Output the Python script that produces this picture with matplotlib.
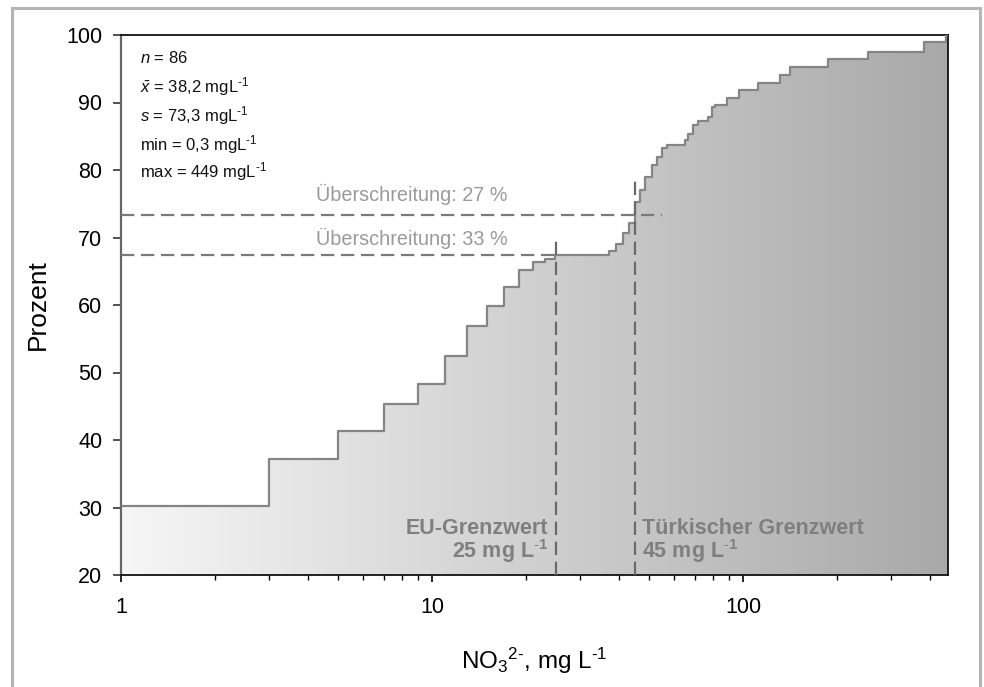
import numpy as np
import matplotlib
matplotlib.use("Agg")
import matplotlib.pyplot as plt
from matplotlib.patches import PathPatch, Rectangle
from matplotlib.path import Path
from matplotlib.colors import LinearSegmentedColormap

plt.rcParams['font.family'] = ['Liberation Sans', 'DejaVu Sans']
plt.rcParams['mathtext.fontset'] = 'custom'
plt.rcParams['mathtext.rm'] = 'Liberation Sans'
plt.rcParams['mathtext.it'] = 'Liberation Sans:italic'
plt.rcParams['mathtext.bf'] = 'Liberation Sans:bold'

# ---- data: cumulative distribution (step positions in mg/L, level in %) ----
step_x = [1.0, 3.0, 5.0, 7.0, 9.0, 11.0, 13.0, 15.0, 17.1, 19.0, 21.1, 23.1, 24.9,
          37.2, 39.1, 41.0, 43.1, 45.0, 46.7, 48.4, 50.9, 53.0, 54.8, 57.1,
          65.1, 66.7, 69.2, 71.8, 77.3, 79.3, 81.2, 88.6, 97.3, 112, 131.5,
          142, 188, 253, 382, 449]
step_pct = [30.2, 37.2, 41.4, 45.4, 48.3, 52.4, 56.9, 59.9, 62.7, 65.2, 66.4, 66.8, 67.4,
            68.0, 69.1, 70.6, 72.2, 75.3, 77.0, 79.0, 80.7, 82.0, 83.2, 83.7,
            84.4, 85.4, 86.7, 87.2, 87.9, 89.4, 89.6, 90.6, 91.9, 92.9, 94.1,
            95.2, 96.4, 97.5, 98.9, 100.0]

x_lim = [1, 456]
y_lim = [20, 100]
y_ticks = [20, 30, 40, 50, 60, 70, 80, 90, 100]
x_ticks = [1, 10, 100]
x_ticklabels = ["1", "10", "100"]

eu_limit = 25
tr_limit = 45
eu_level = 67.4     # 33 % exceedance
tr_level = 73.3     # 27 % exceedance

stats_lines = [r"$n$ = 86",
               r"$\bar{x}$ = 38,2 mgL$^{\text{-}1}$",
               r"$s$ = 73,3 mgL$^{\text{-}1}$",
               r"min = 0,3 mgL$^{\text{-}1}$",
               r"max = 449 mgL$^{\text{-}1}$"]

# ---- figure ----
W, H = 984, 687
fig = plt.figure(figsize=(W / 100, H / 100), dpi=100)
fig.patch.set_facecolor("white")
# outer frame
fig.patches.append(Rectangle((12 / W, -0.1), (980 - 12) / W, 1.1 - 8 / H,
                             transform=fig.transFigure, fill=False,
                             edgecolor="#b5b5b5", lw=2.2))

L, R, T, B = 121, 948, 35, 575
ax = fig.add_axes([L / W, 1 - B / H, (R - L) / W, (B - T) / H])
ax.set_xscale("log")
ax.set_xlim(*x_lim)
ax.set_ylim(*y_lim)

# step outline
xx = list(step_x) + [x_lim[1]]
yy = list(step_pct) + [step_pct[-1]]

verts = [(x_lim[0], y_lim[0])]
for i in range(len(step_x)):
    verts.append((step_x[i], step_pct[i - 1] if i > 0 else y_lim[0]))
    verts.append((step_x[i], step_pct[i]))
verts.append((x_lim[1], step_pct[-1]))
verts.append((x_lim[1], y_lim[0]))
verts.append((x_lim[0], y_lim[0]))
poly = PathPatch(Path(verts), facecolor="none", edgecolor="none")
ax.add_patch(poly)

cmap = LinearSegmentedColormap.from_list("g", ["#f6f6f6", "#a9a9a9"])
grad = np.linspace(0, 1, 512).reshape(1, -1)
im = ax.imshow(grad, extent=[0, 1, 0, 1], transform=ax.transAxes,
               aspect="auto", cmap=cmap, zorder=1, interpolation="bilinear")
im.set_clip_path(poly)
ax.set_xlim(*x_lim)
ax.set_ylim(*y_lim)

ax.plot(xx, yy, drawstyle="steps-post", color="#858585", lw=1.6, zorder=3)

# limit lines
dash = (6, 3)
ax.plot([eu_limit, eu_limit], [y_lim[0], 70.1], color="#6a6a6a", lw=1.6,
        dashes=dash, zorder=4)
ax.plot([tr_limit, tr_limit], [y_lim[0], 78.3], color="#6a6a6a", lw=1.6,
        dashes=dash, zorder=4)
ax.plot([x_lim[0], 55], [tr_level, tr_level], color="#7a7a7a", lw=1.6,
        dashes=dash, zorder=4)
ax.plot([x_lim[0], eu_limit], [eu_level, eu_level], color="#7a7a7a", lw=1.6,
        dashes=dash, zorder=4)

# annotations
ax.text(17.5, 76.4, "Überschreitung: 27 %", ha="right", va="center",
        fontsize=14.3, color="#9a9a9a", zorder=5)
ax.text(17.5, 69.9, "Überschreitung: 33 %", ha="right", va="center",
        fontsize=14.3, color="#9a9a9a", zorder=5)

bold_fs = 15.5
ax.text(23.6, 26.9, "EU-Grenzwert", ha="right", va="center", fontsize=bold_fs,
        fontweight="bold", color="#7f7f7f", zorder=5)
ax.text(23.6, 23.6, r"25 mg L$^{\mathbf{\text{-}1}}$", ha="right", va="center",
        fontsize=bold_fs, fontweight="bold", color="#7f7f7f", zorder=5)
ax.text(47.3, 26.9, "Türkischer Grenzwert", ha="left", va="center", fontsize=bold_fs,
        fontweight="bold", color="#7f7f7f", zorder=5)
ax.text(47.3, 23.6, r"45 mg L$^{\mathbf{\text{-}1}}$", ha="left", va="center",
        fontsize=bold_fs, fontweight="bold", color="#7f7f7f", zorder=5)

rows_px = [58, 87, 116, 145, 172]
for s, ypx in zip(stats_lines, rows_px):
    ax.text((140 - L) / (R - L), (B - ypx) / (B - T), s, transform=ax.transAxes,
            ha="left", va="center", fontsize=12, color="#111111", zorder=5)

# axes styling
ax.set_yticks(y_ticks)
ax.set_xticks(x_ticks)
ax.set_xticklabels(x_ticklabels)
ax.tick_params(axis="y", which="major", direction="out", length=5.5, width=1.2,
               pad=8, labelsize=15.5, color="#333333")
ax.tick_params(axis="x", which="major", direction="out", length=5, width=1.2,
               pad=11, labelsize=15.5)
ax.tick_params(axis="x", which="minor", direction="out", length=3.5, width=1.0)
for side in ["top", "right", "bottom"]:
    ax.spines[side].set_color("#111111")
    ax.spines[side].set_linewidth(1.3)
ax.spines["left"].set_color("#666666")
ax.spines["left"].set_linewidth(1.6)

ax.set_ylabel("Prozent", fontsize=19, labelpad=12)
ax.set_xlabel(r"NO$_3$$^{2\text{-}}$, mg L$^{\text{-}1}$", fontsize=17.5, labelpad=20)

fig.savefig("out.png", dpi=100)
